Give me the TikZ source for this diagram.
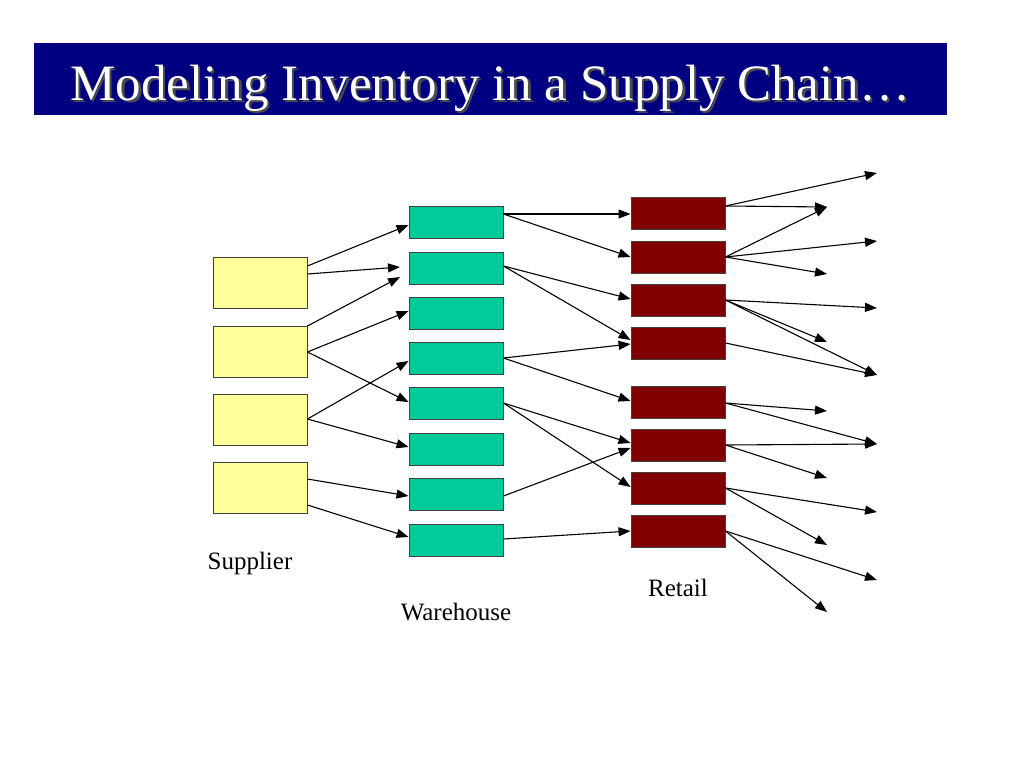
\documentclass[tikz,border=0pt]{standalone}
\usepackage{fontspec}
\setmainfont{Liberation Serif}
\usetikzlibrary{arrows.meta}
\definecolor{titleblue}{RGB}{0,0,128}
\definecolor{supyellow}{RGB}{255,255,153}
\definecolor{whteal}{RGB}{0,204,153}
\definecolor{retred}{RGB}{128,0,0}
\begin{document}
\begin{tikzpicture}[x=1pt,y=-1pt,
  box/.style={draw=black!75, line width=0.9pt, minimum width=94pt, inner sep=0pt, anchor=center},
  sup/.style={box, fill=supyellow, minimum height=51pt},
  wh/.style={box, fill=whteal, minimum height=32pt},
  ret/.style={box, fill=retred, minimum height=32pt},
  flow/.style={line width=1.1pt, -{Triangle[length=12pt,width=9pt]}},
  lbl/.style={font=\fontsize{25}{30}\selectfont, anchor=base, inner sep=0pt},
  ttl/.style={font=\fontsize{51}{60}\selectfont, anchor=base west, inner sep=0pt},
]
\useasboundingbox (0,0) rectangle (1024,768);
% title bar
\node[fill=titleblue, minimum width=913pt, minimum height=72pt, inner sep=0pt, anchor=north west] (bar) at (34,43) {};
\node[ttl, text=black!70] (titleshadow) at (72.5,102.5) {Modeling Inventory in a Supply Chain…};
\node[ttl, text=white] (title) at (70,100) {Modeling Inventory in a Supply Chain…};

% suppliers
\node[sup] (S1) at (260,283) {};
\node[sup] (S2) at (260,351.5) {};
\node[sup] (S3) at (260,419.5) {};
\node[sup] (S4) at (260,487.5) {};
% warehouses
\node[wh] (W1) at (456,222.5) {};
\node[wh] (W2) at (456,268) {};
\node[wh] (W3) at (456,313) {};
\node[wh] (W4) at (456,358) {};
\node[wh] (W5) at (456,403.5) {};
\node[wh] (W6) at (456,449) {};
\node[wh] (W7) at (456,494) {};
\node[wh] (W8) at (456,540) {};
% retail
\node[ret] (R1) at (678,213.5) {};
\node[ret] (R2) at (678,257) {};
\node[ret] (R3) at (678,300) {};
\node[ret] (R4) at (678,343) {};
\node[ret] (R5) at (678,402) {};
\node[ret] (R6) at (678,445) {};
\node[ret] (R7) at (678,488) {};
\node[ret] (R8) at (678,531) {};

% labels
\node[lbl] (lsup) at (250,569) {Supplier};
\node[lbl] (lwh) at (456,620) {Warehouse};
\node[lbl] (lret) at (678,596) {Retail};

% free ends
\coordinate (a1) at (400,267);
\coordinate (a2) at (400,277);
\coordinate (F1) at (877,173);
\coordinate (F2) at (877,241);
\coordinate (F3) at (877,308);
\coordinate (F4) at (877,375);
\coordinate (F5) at (877,444);
\coordinate (F6) at (877,512);
\coordinate (F7) at (877,580);
\coordinate (N1) at (827,207);
\coordinate (N2) at (827,274);
\coordinate (N3) at (827,342);
\coordinate (N4) at (827,411);
\coordinate (N5) at (827,478);
\coordinate (N6) at (827,545);
\coordinate (N7) at (827,612);

% supplier -> warehouse
\draw[flow] (S1.east |- 0,266) -- (W1.west |- 0,225);
\draw[flow] (S1.east |- 0,274) -- (a1);
\draw[flow] (S2.east |- 0,326) -- (a2);
\draw[flow] (S2.east |- 0,352) -- (W3.west |- 0,311);
\draw[flow] (S2.east |- 0,352) -- (W5.west |- 0,402);
\draw[flow] (S3.east |- 0,419) -- (W4.west |- 0,361);
\draw[flow] (S3.east |- 0,419) -- (W6.west |- 0,447);
\draw[flow] (S4.east |- 0,479) -- (W7.west |- 0,496);
\draw[flow] (S4.east |- 0,505) -- (W8.west |- 0,537);

% warehouse -> retail
\draw[flow] (W1.east |- 0,214) -- (R1.west |- 0,214);
\draw[flow] (W1.east |- 0,214) -- (R2.west |- 0,257);
\draw[flow] (W2.east |- 0,266) -- (R3.west |- 0,299);
\draw[flow] (W2.east |- 0,266) -- (R4.west |- 0,340);
\draw[flow] (W4.east |- 0,358) -- (R4.west |- 0,344);
\draw[flow] (W4.east |- 0,358) -- (R5.west |- 0,401);
\draw[flow] (W5.east |- 0,403) -- (R6.west |- 0,443);
\draw[flow] (W5.east |- 0,403) -- (R7.west |- 0,487);
\draw[flow] (W7.east |- 0,496) -- (R6.west |- 0,448);
\draw[flow] (W8.east |- 0,539) -- (R8.west |- 0,531);

% retail -> customers
\draw[flow] (R1.east |- 0,206) -- (F1);
\draw[flow] (R1.east |- 0,206) -- (N1);
\draw[flow] (R2.east |- 0,257) -- (N1);
\draw[flow] (R2.east |- 0,257) -- (F2);
\draw[flow] (R2.east |- 0,257) -- (N2);
\draw[flow] (R3.east |- 0,300) -- (F3);
\draw[flow] (R3.east |- 0,300) -- (N3);
\draw[flow] (R3.east |- 0,300) -- (F4);
\draw[flow] (R4.east |- 0,343) -- (F4);
\draw[flow] (R5.east |- 0,403) -- (N4);
\draw[flow] (R5.east |- 0,403) -- (F5);
\draw[flow] (R6.east |- 0,445) -- (F5);
\draw[flow] (R6.east |- 0,445) -- (N5);
\draw[flow] (R7.east |- 0,488) -- (F6);
\draw[flow] (R7.east |- 0,488) -- (N6);
\draw[flow] (R8.east |- 0,531) -- (F7);
\draw[flow] (R8.east |- 0,531) -- (N7);
\end{tikzpicture}
\end{document}
